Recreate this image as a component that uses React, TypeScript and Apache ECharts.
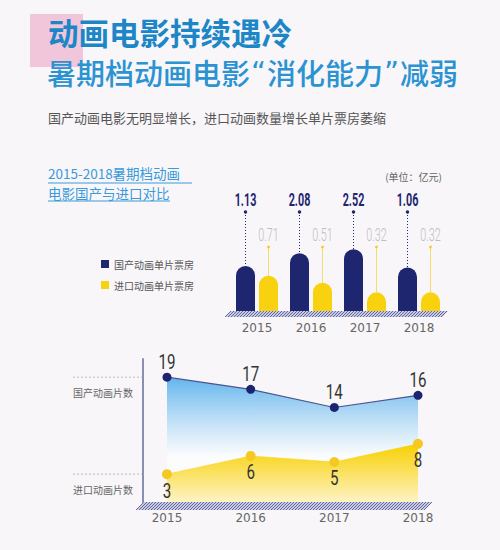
import React, { useEffect, useRef } from "react";
import * as echarts from "echarts";

const years = ["2015", "2016", "2017", "2018"];
const domesticBoxOffice = [1.13, 2.08, 2.52, 1.06];
const importBoxOffice = [0.71, 0.51, 0.32, 0.32];
const domesticCount = [19, 17, 14, 16];
const importCount = [3, 6, 5, 8];
const seriesNames = ["国产动画单片票房", "进口动画单片票房"];
const countNames = ["国产动画片数", "进口动画片数"];

const NAVY = "#1f2670";
const YELLOW = "#f8d20f";
const CJK = "'Noto Sans CJK SC', sans-serif";
const NUM = "Roboto, 'DejaVu Sans', sans-serif";

function hatch(x0: number, x1: number, yt: number, yb: number) {
  const h = yb - yt;
  const children: any[] = [
    {
      type: "polygon",
      shape: { points: [[x0, yb], [x0 + h, yt], [x1, yt], [x1 - h, yb]] },
      style: { fill: "#c9cbe3" },
    },
  ];
  for (let x = x0; x <= x1 - h; x += 3) {
    children.push({
      type: "line",
      shape: { x1: x, y1: yb, x2: x + h, y2: yt },
      style: { stroke: "#565a96", lineWidth: 0.9 },
    });
  }
  return { type: "group", z: 1, children };
}

export default function App() {
  const ref = useRef<HTMLDivElement>(null);
  useEffect(() => {
    if (!ref.current) return;
    const chart = echarts.init(ref.current, undefined, { renderer: "svg" });
    const option: any = {
      animation: false,
      backgroundColor: "#f8f6f9",
      legend: {
        data: seriesNames,
        orient: "vertical",
        left: 96,
        top: 254,
        itemWidth: 8,
        itemHeight: 8,
        itemGap: 11,
        icon: "rect",
        textStyle: { fontSize: 10, color: "#555", fontFamily: CJK },
      },
      grid: [
        { left: 230, right: 54, top: 185, bottom: 239 },
        { left: 167, right: 82, top: 359, bottom: 48 },
      ],
      xAxis: [
        {
          type: "category",
          gridIndex: 0,
          data: years,
          axisLine: { show: false },
          axisTick: { show: false },
          axisLabel: { color: "#666", fontSize: 12, fontFamily: "'DejaVu Sans'", margin: 11 },
        },
        {
          type: "category",
          gridIndex: 1,
          data: years,
          boundaryGap: false,
          axisLine: { show: false },
          axisTick: { show: false },
          axisLabel: { color: "#666", fontSize: 12, fontFamily: "'DejaVu Sans'", margin: 10 },
        },
      ],
      yAxis: [
        {
          type: "log",
          gridIndex: 0,
          min: 0.131,
          max: 55,
          startValue: 0.131,
          show: false,
        },
        {
          type: "value",
          gridIndex: 1,
          min: -1.6,
          max: 22,
          offset: 24,
          axisLine: { show: true, lineStyle: { color: "#8a8db5", width: 2 } },
          axisTick: { show: false },
          axisLabel: { show: false },
          splitLine: { show: false },
        },
      ],
      series: [
        {
          name: seriesNames[0],
          type: "bar",
          xAxisIndex: 0,
          yAxisIndex: 0,
          data: domesticBoxOffice,
          barWidth: 19,
          barGap: "21%",
          itemStyle: { color: NAVY, borderRadius: [9.5, 9.5, 0, 0] },
          z: 3,
        },
        {
          name: seriesNames[1],
          type: "bar",
          xAxisIndex: 0,
          yAxisIndex: 0,
          data: importBoxOffice,
          barWidth: 19,
          barGap: "21%",
          itemStyle: { color: YELLOW, borderRadius: [9.5, 9.5, 0, 0] },
          z: 3,
        },
        {
          type: "custom",
          xAxisIndex: 0,
          yAxisIndex: 0,
          silent: true,
          z: 6,
          data: years.map((_, i) => [i, domesticBoxOffice[i], importBoxOffice[i]]),
          renderItem: (params: any, api: any) => {
            const i = api.value(0);
            const dv = api.value(1);
            const iv = api.value(2);
            const pd = api.coord([i, dv]);
            const pi = api.coord([i, iv]);
            const top = params.coordSys.y;
            const xd = pd[0] - 11.5;
            const xi = pi[0] + 11.5;
            return {
              type: "group",
              children: [
                { type: "line", shape: { x1: xd, y1: top + 27, x2: xd, y2: pd[1] }, style: { stroke: NAVY, lineWidth: 1, lineDash: [1, 2] } },
                { type: "circle", shape: { cx: xd, cy: top + 27, r: 1.7 }, style: { fill: NAVY } },
                { type: "text", x: xd, y: top + 15, scaleX: 0.6, style: { text: dv.toFixed(2), fill: NAVY, font: `bold 18px ${NUM}`, textAlign: "center", textVerticalAlign: "middle" } },
                { type: "line", shape: { x1: xi, y1: top + 62, x2: xi, y2: pi[1] }, style: { stroke: "#f3d64a", lineWidth: 0.8 } },
                { type: "circle", shape: { cx: xi, cy: top + 62, r: 1.5 }, style: { fill: "#f3d030" } },
                { type: "text", x: xi, y: top + 50, scaleX: 0.6, style: { text: iv.toFixed(2), fill: "#bdbdc2", font: `300 18px ${NUM}`, textAlign: "center", textVerticalAlign: "middle" } },
              ],
            };
          },
        },
        {
          name: countNames[0],
          type: "line",
          xAxisIndex: 1,
          yAxisIndex: 1,
          data: domesticCount,
          symbol: "circle",
          symbolSize: 9,
          itemStyle: { color: "#1c2470" },
          lineStyle: { color: "#4a5590", width: 1.2 },
          areaStyle: {
            origin: "start",
            color: new echarts.graphic.LinearGradient(0, 0, 0, 1, [
              { offset: 0, color: "#62b4ec" },
              { offset: 0.65, color: "rgba(255,255,255,0.75)" },
              { offset: 1, color: "rgba(255,255,255,0.2)" },
            ]),
            opacity: 1,
          },
          z: 2,
        },
        {
          name: countNames[1],
          type: "line",
          xAxisIndex: 1,
          yAxisIndex: 1,
          data: importCount,
          symbol: "circle",
          symbolSize: 10,
          itemStyle: { color: "#f4ca22" },
          lineStyle: { color: "#f8d000", width: 0.5 },
          areaStyle: {
            origin: "start",
            color: new echarts.graphic.LinearGradient(0, 0, 0, 1, [
              { offset: 0, color: "#f8d000" },
              { offset: 1, color: "#fdf3c4" },
            ]),
            opacity: 1,
          },
          z: 3,
        },
        {
          type: "custom",
          xAxisIndex: 1,
          yAxisIndex: 1,
          silent: true,
          z: 8,
          data: years.map((_, i) => [i, domesticCount[i], importCount[i]]),
          renderItem: (params: any, api: any) => {
            const i = api.value(0);
            const dv = api.value(1);
            const iv = api.value(2);
            const pd = api.coord([i, dv]);
            const pi = api.coord([i, iv]);
            const children: any[] = [
              { type: "text", x: pd[0], y: pd[1] - 16, scaleX: 0.72, style: { text: String(dv), fill: "#333", font: `21px ${NUM}`, textAlign: "center", textVerticalAlign: "middle" } },
              { type: "text", x: pi[0], y: pi[1] + 16, scaleX: 0.72, style: { text: String(iv), fill: "#333", font: `21px ${NUM}`, textAlign: "center", textVerticalAlign: "middle" } },
            ];
            if (i === 0) {
              const axisX = params.coordSys.x - 24;
              [pd[1], pi[1]].forEach((y: number, k: number) => {
                children.push({ type: "line", shape: { x1: 73, y1: y, x2: axisX, y2: y }, style: { stroke: "#aaa", lineWidth: 0.8, lineDash: [2, 2] } });
                children.push({ type: "text", x: 73, y: y + 15, style: { text: countNames[k], fill: "#666", font: `10px ${CJK}`, textAlign: "left", textVerticalAlign: "middle" } });
              });
            }
            return { type: "group", children };
          },
        },
      ],
      graphic: [
        { type: "rect", shape: { x: 30, y: 14, width: 53, height: 53 }, style: { fill: "#f1c6db" }, z: 0 },
        { type: "text", x: 48, y: 32, style: { text: "动画电影持续遇冷", fill: "#1d86c6", font: `bold 30.5px ${CJK}`, textVerticalAlign: "middle" }, z: 1 },
        {
          type: "text",
          x: 47,
          y: 72,
          style: {
            text: "暑期档动画电影{q|“}消化能力{q|”}减弱",
            fill: "#2b93d2",
            font: `500 29px ${CJK}`,
            textVerticalAlign: "middle",
            rich: { q: { fill: "#2b93d2", font: "29px 'DejaVu Sans'", padding: [0, 1, 0, 1] } },
          },
          z: 1,
        },
        { type: "text", x: 48, y: 117, style: { text: "国产动画电影无明显增长，进口动画数量增长单片票房萎缩", fill: "#555", font: `13px ${CJK}`, textVerticalAlign: "middle" }, z: 1 },
        { type: "text", x: 48, y: 173, style: { text: "2015-2018暑期档动画", fill: "#3a9ad9", font: `13.5px ${CJK}`, lineHeight: 14, textVerticalAlign: "middle" }, z: 1 },
        { type: "text", x: 48, y: 193, style: { text: "电影国产与进口对比", fill: "#3a9ad9", font: `13.5px ${CJK}`, lineHeight: 14, textVerticalAlign: "middle" }, z: 1 },
        { type: "line", shape: { x1: 48, y1: 183, x2: 192, y2: 183 }, style: { stroke: "#3a9ad9", lineWidth: 1 }, z: 1 },
        { type: "line", shape: { x1: 48, y1: 201, x2: 170, y2: 201 }, style: { stroke: "#3a9ad9", lineWidth: 1 }, z: 1 },
        { type: "text", x: 442, y: 176, style: { text: "(单位：亿元)", fill: "#666", font: `10px ${CJK}`, textAlign: "right", textVerticalAlign: "middle" }, z: 1 },
        hatch(225, 448, 311, 317),
        hatch(136, 432, 502, 510),
      ],
    };
    chart.setOption(option);
    return () => chart.dispose();
  }, []);
  return <div ref={ref} style={{ position: "absolute", left: 0, top: 0, width: 500, height: 550 }} />;
}
